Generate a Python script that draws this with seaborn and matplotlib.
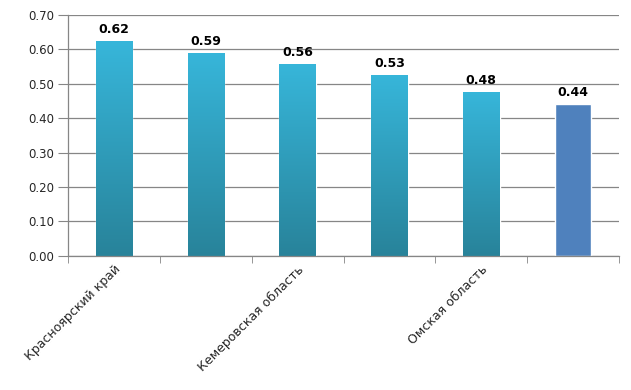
import numpy as np
import pandas as pd
import matplotlib
matplotlib.use("Agg")
import matplotlib.pyplot as plt
import seaborn as sns
from matplotlib.colors import to_rgb
from matplotlib.ticker import FixedLocator

regions = ["Красноярский край", "Новосибирская область", "Кемеровская область",
           "Томская область", "Омская область", "Алтайский край"]
values = [0.623, 0.590, 0.558, 0.526, 0.477, 0.442]
shown_labels = ["Красноярский край", "Кемеровская область", "Омская область"]

df = pd.DataFrame({"region": regions, "value": values})

sns.set_style("white")
plt.rcParams["font.family"] = ["DejaVu Sans"]

fig = plt.figure(figsize=(6.31, 3.9), dpi=100)
ax = fig.add_axes([0.108, 0.344, 0.873, 0.618])

sns.barplot(data=df, x="region", y="value", ax=ax, width=0.4,
            color="#4f81bd", saturation=1, errorbar=None)

ax.set_xlim(-0.5, len(regions) - 0.5)
ax.set_ylim(0, 0.70)

# gradient fill for all bars except the last one
top = np.array(to_rgb("#37b6da"))
bot = np.array(to_rgb("#28839a"))
grad = np.linspace(top, bot, 256).reshape(256, 1, 3)
for p in ax.patches[:-1]:
    x0, w, h = p.get_x(), p.get_width(), p.get_height()
    im = ax.imshow(grad, extent=[x0, x0 + w, 0, h], aspect="auto",
                   zorder=p.get_zorder(), interpolation="bilinear")
    im.set_clip_path(p)
    p.set_facecolor("none")
ax.set_xlim(-0.5, len(regions) - 0.5)
ax.set_ylim(0, 0.70)

for p, v in zip(ax.patches, values):
    ax.annotate(f"{v:.2f}", (p.get_x() + p.get_width() / 2, p.get_height()),
                xytext=(0, 3.5), textcoords="offset points", ha="center", va="bottom",
                fontsize=9, fontweight="bold", color="black")

ax.set_yticks(np.arange(0, 0.71, 0.1))
ax.set_yticklabels([f"{t:.2f}" for t in np.arange(0, 0.71, 0.1)], fontsize=8.5)
ax.yaxis.grid(True, color="#868686", linewidth=0.9)
ax.set_axisbelow(True)

ax.set_xticks([0, 2, 4])
ax.set_xticklabels(shown_labels, rotation=45, ha="right", rotation_mode="anchor", fontsize=9)
ax.xaxis.set_minor_locator(FixedLocator(np.arange(-0.5, len(regions), 1)))
ax.tick_params(axis="x", which="major", length=0, pad=5)
ax.tick_params(axis="x", which="minor", length=5, color="#868686", bottom=True)
ax.tick_params(axis="y", length=7, color="#868686", left=True, pad=3)

for s in ["top", "right"]:
    ax.spines[s].set_visible(False)
for s in ["left", "bottom"]:
    ax.spines[s].set_color("#868686")
    ax.spines[s].set_linewidth(0.9)

ax.set_xlabel("")
ax.set_ylabel("")

fig.savefig("out.png", dpi=100)
